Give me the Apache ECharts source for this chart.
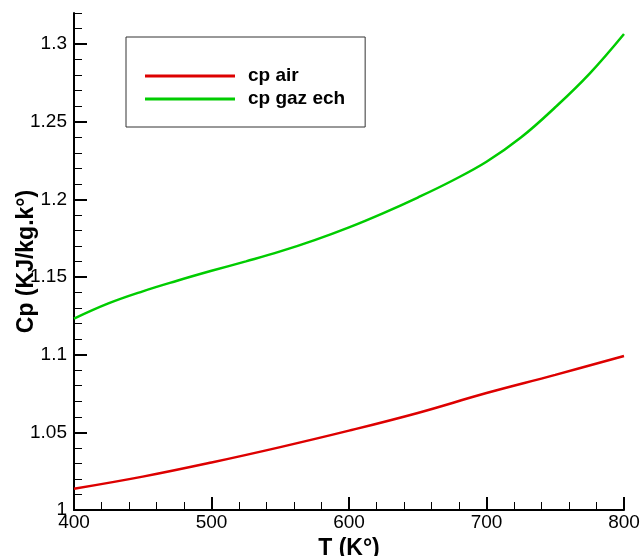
<!DOCTYPE html>
<html>
<head>
<meta charset="utf-8">
<script src="https://cdn.jsdelivr.net/npm/echarts@6/dist/echarts.min.js"></script>
<style>html,body{margin:0;padding:0;background:#fff}#c{width:640px;height:556px}</style>
</head>
<body>
<div id="c"></div>
<script>
var tAir = [400, 450, 500, 550, 600, 650, 700, 750, 800];
var cpAir = [1.0137, 1.0215, 1.0306, 1.0405, 1.0511, 1.0625, 1.0753, 1.0870, 1.0992];
var tGaz = [400, 425, 450, 475, 500, 525, 550, 575, 600, 625, 650, 675, 700, 725, 750, 775, 800];
var cpGaz = [1.1232, 1.1330, 1.1408, 1.1476, 1.1540, 1.1601, 1.1665, 1.1738, 1.1820, 1.1912, 1.2012, 1.2120, 1.2242, 1.2398, 1.2593, 1.2810, 1.3065];
var xTicks = [400, 500, 600, 700, 800];
var yTicks = [1, 1.05, 1.1, 1.15, 1.2, 1.25, 1.3];
var seriesNames = ['cp air', 'cp gaz ech'];
var xTitle = 'T (K°)';
var yTitle = 'Cp (KJ/kg.k°)';

function pairs(xs, ys) { return xs.map(function (x, i) { return [x, ys[i]]; }); }

var FONT = 'Liberation Sans, Arial, Helvetica, sans-serif';
var chart = echarts.init(document.getElementById('c'), null, {renderer: 'canvas'});
chart.setOption({
  animation: false,
  backgroundColor: '#fff',
  grid: [
    {left: 74, right: 16, top: 13, bottom: 46, containLabel: false, outerBoundsMode: 'none'},
    {left: 74, right: 16, top: 44.06, bottom: 46, containLabel: false, outerBoundsMode: 'none'}
  ],
  legend: {
    orient: 'vertical',
    left: 126, top: 37,
    data: seriesNames,
    icon: 'rect',
    itemWidth: 90, itemHeight: 3,
    itemGap: 4,
    padding: [29.5, 20, 18.5, 19],
    borderColor: '#333', borderWidth: 1,
    textStyle: {fontFamily: FONT, fontSize: 19, fontWeight: 'bold', color: '#000', lineHeight: 19, padding: [0, 0, 0, 8]}
  },
  xAxis: [
    {
      type: 'value', gridIndex: 0, min: xTicks[0], max: xTicks[xTicks.length - 1], interval: 100,
      name: xTitle, nameLocation: 'middle', nameGap: 21,
      nameTextStyle: {fontFamily: FONT, fontSize: 23, fontWeight: 'bold', color: '#000'},
      axisLine: {show: true, onZero: false, lineStyle: {color: '#000', width: 2}},
      axisTick: {show: true, inside: true, length: 13, lineStyle: {color: '#000', width: 2}},
      minorTick: {show: true, splitNumber: 5, length: 8, lineStyle: {color: '#000', width: 1}},
      axisLabel: {fontFamily: FONT, fontSize: 19, color: '#000', margin: 3,
        formatter: function (v) { return xTicks.indexOf(v) >= 0 ? String(v) : ''; }},
      splitLine: {show: false}
    },
    {
      type: 'value', gridIndex: 1, min: xTicks[0], max: xTicks[xTicks.length - 1], interval: 100,
      show: false
    }
  ],
  yAxis: [
    {
      type: 'value', gridIndex: 0, min: 1, max: 1.32, interval: 0.01,
      name: yTitle, nameLocation: 'middle', nameGap: 36,
      nameTextStyle: {fontFamily: FONT, fontSize: 23, fontWeight: 'bold', color: '#000'},
      axisLine: {show: true, onZero: false, lineStyle: {color: '#000', width: 2}},
      axisTick: {show: true, inside: true, length: 8, lineStyle: {color: '#000', width: 1}},
      axisLabel: {show: false},
      splitLine: {show: false}
    },
    {
      type: 'value', gridIndex: 1, min: 1, max: 1.3, interval: 0.05,
      axisLine: {show: false},
      axisTick: {show: true, inside: true, length: 13, lineStyle: {color: '#000', width: 2}},
      axisLabel: {fontFamily: FONT, fontSize: 19, color: '#000', margin: 7,
        formatter: function (v) {
          for (var i = 0; i < yTicks.length; i++) { if (Math.abs(yTicks[i] - v) < 1e-9) return String(yTicks[i]); }
          return '';
        }},
      splitLine: {show: false}
    }
  ],
  series: [
    {
      name: seriesNames[0], type: 'line', xAxisIndex: 0, yAxisIndex: 0,
      data: pairs(tAir, cpAir), smooth: 0.4, symbol: 'none',
      lineStyle: {color: '#dd0000', width: 2.5}, itemStyle: {color: '#dd0000'}
    },
    {
      name: seriesNames[1], type: 'line', xAxisIndex: 0, yAxisIndex: 0,
      data: pairs(tGaz, cpGaz), smooth: 0.4, symbol: 'none',
      lineStyle: {color: '#00cc00', width: 2.5}, itemStyle: {color: '#00cc00'}
    }
  ]
});
</script>
</body>
</html>
